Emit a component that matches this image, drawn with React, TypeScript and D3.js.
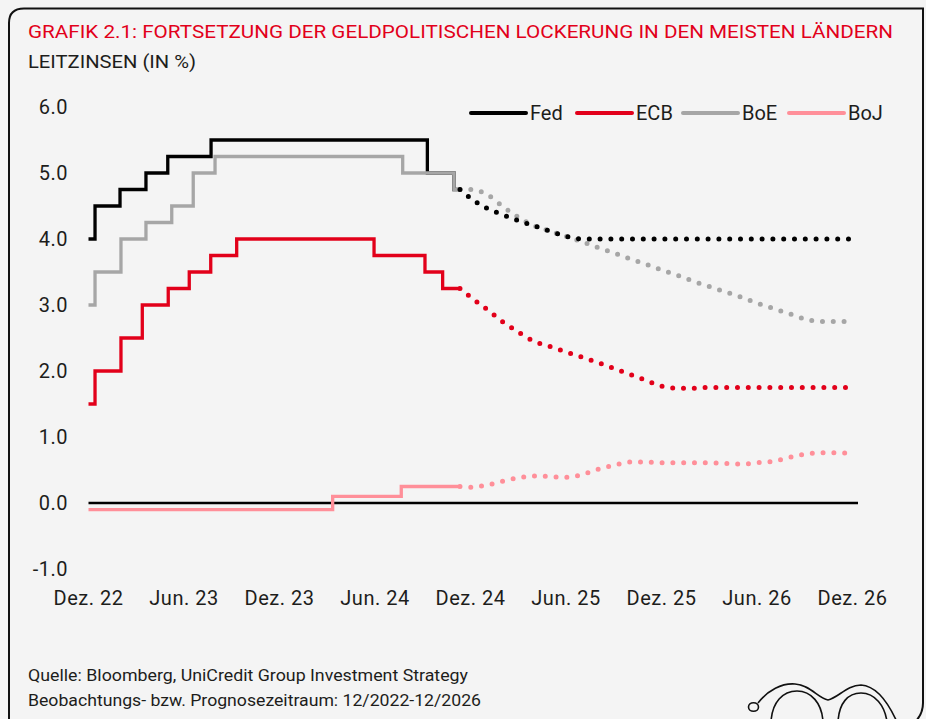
import React from "react";
import * as d3 from "d3";

const W = 926;
const H = 719;

// axis ticks
const yTicks = [-1, 0, 1, 2, 3, 4, 5, 6];
const xTickMonths = [0, 6, 12, 18, 24, 30, 36, 42, 48];
const xTickLabels = ["Dez. 22", "Jun. 23", "Dez. 23", "Jun. 24", "Dez. 24", "Jun. 25", "Dez. 25", "Jun. 26", "Dez. 26"];

// series names
const seriesNames = ["Fed", "ECB", "BoE", "BoJ"];

// historical policy rates: step change points (months since start of Dec 2022) and rate
const fedHistMonths = [0, 0.41, 1.98, 3.61, 4.98, 7.7, 21.29, 22.96];
const fedHistRates = [4.0, 4.5, 4.75, 5.0, 5.25, 5.5, 5.0, 4.75];
const ecbHistMonths = [0, 0.41, 2.04, 3.38, 5.01, 6.33, 7.68, 9.31, 17.94, 21.14, 22.25];
const ecbHistRates = [1.5, 2.0, 2.5, 3.0, 3.25, 3.5, 3.75, 4.0, 3.75, 3.5, 3.25];
const boeHistMonths = [0, 0.41, 2.04, 3.61, 5.23, 6.58, 7.95, 19.74, 22.96];
const boeHistRates = [3.0, 3.5, 4.0, 4.25, 4.5, 5.0, 5.25, 5.0, 4.75];
const bojHistMonths = [0, 15.34, 19.65];
const bojHistRates = [-0.1, 0.1, 0.25];
const histEnd = 23.34;

// forecasts (monthly, from end of history to Dec 2026)
const fcMonths = [histEnd, 24, 25, 26, 27, 28, 29, 30, 31, 32, 33, 34, 35, 36, 37, 38, 39, 40, 41, 42, 43, 44, 45, 46, 47, 48];
const fedForecast = [4.75, 4.62, 4.47, 4.37, 4.28, 4.2, 4.12, 4.04, 4.0, 4.0, 4.0, 4.0, 4.0, 4.0, 4.0, 4.0, 4.0, 4.0, 4.0, 4.0, 4.0, 4.0, 4.0, 4.0, 4.0, 4.0];
const ecbForecast = [3.25, 3.12, 2.94, 2.75, 2.59, 2.45, 2.37, 2.29, 2.21, 2.13, 2.04, 1.95, 1.86, 1.77, 1.74, 1.74, 1.75, 1.75, 1.75, 1.75, 1.75, 1.75, 1.75, 1.75, 1.75, 1.75];
const boeForecast = [4.75, 4.75, 4.68, 4.5, 4.33, 4.2, 4.12, 4.04, 3.96, 3.87, 3.79, 3.7, 3.62, 3.53, 3.45, 3.36, 3.28, 3.2, 3.12, 3.03, 2.95, 2.87, 2.79, 2.75, 2.75, 2.75];
const bojForecast = [0.25, 0.24, 0.27, 0.33, 0.38, 0.41, 0.4, 0.39, 0.43, 0.51, 0.57, 0.62, 0.62, 0.61, 0.61, 0.61, 0.61, 0.6, 0.59, 0.61, 0.63, 0.69, 0.74, 0.76, 0.76, 0.75];

const COLORS: Record<string, string> = {
  Fed: "#000000",
  ECB: "#e2001a",
  BoE: "#a6a6a6",
  BoJ: "#ff8f99",
};
const RED = "#e2001a";
const TEXT = "#1d1d1b";
const BG = "#f4f4f4";
const FONT = "Roboto, 'DejaVu Sans', sans-serif";

type Pt = [number, number];
const zip = (a: number[], b: number[]): Pt[] => a.map((m, i) => [m, b[i]]);
const fmt = (v: number) => d3.format(".1f")(v).replace("\u2212", "-");

export default function App() {
  const x = d3.scaleLinear().domain([0, 48]).range([88.5, 852.5]);
  const y = d3.scaleLinear().domain([-1, 6]).range([569, 107]);

  const stepLine = d3
    .line<Pt>()
    .x((d) => x(d[0]))
    .y((d) => y(d[1]))
    .curve(d3.curveStepAfter);
  const smoothLine = d3
    .line<Pt>()
    .x((d) => x(d[0]))
    .y((d) => y(d[1]))
    .curve(d3.curveMonotoneX);

  const hist: { name: string; pts: Pt[] }[] = [
    { name: "Fed", pts: zip(fedHistMonths, fedHistRates) },
    { name: "ECB", pts: zip(ecbHistMonths, ecbHistRates) },
    { name: "BoE", pts: zip(boeHistMonths, boeHistRates) },
    { name: "BoJ", pts: zip(bojHistMonths, bojHistRates) },
  ].map((s) => ({ name: s.name, pts: [...s.pts, [histEnd, s.pts[s.pts.length - 1][1]] as Pt] }));

  const fc: { name: string; pts: Pt[] }[] = [
    { name: "BoE", pts: zip(fcMonths, boeForecast) },
    { name: "ECB", pts: zip(fcMonths, ecbForecast) },
    { name: "BoJ", pts: zip(fcMonths, bojForecast) },
    { name: "Fed", pts: zip(fcMonths, fedForecast) },
  ];

  const legendX0 = 471;
  const legendStep = 106;
  const legendY = 113;

  return (
    <>
      <style>{`html,body{margin:0;padding:0;background:${BG};}`}</style>
      <svg width={W} height={H} style={{ display: "block", background: BG }} fontFamily={FONT}>
        {/* frame */}
        <path
          d="M9,722 L9,23 Q9,8.5 24,8.5 L923,8.5 L923,703 Q923,714 915,722"
          fill="none"
          stroke="#111"
          strokeWidth={2}
        />
        {/* title */}
        <text x={28} y={38} fill={RED} fontSize={19} textLength={865} lengthAdjust="spacingAndGlyphs">
          GRAFIK 2.1: FORTSETZUNG DER GELDPOLITISCHEN LOCKERUNG IN DEN MEISTEN LÄNDERN
        </text>
        <text x={28} y={68} fill={TEXT} fontSize={19} textLength={168} lengthAdjust="spacingAndGlyphs">
          LEITZINSEN (IN %)
        </text>

        {/* y axis labels */}
        {yTicks.map((t) => (
          <text key={t} x={68} y={y(t)} dy="0.36em" textAnchor="end" fill={TEXT} fontSize={20} letterSpacing={0.5}>
            {fmt(t)}
          </text>
        ))}
        {/* x axis labels */}
        {xTickMonths.map((m, i) => (
          <text key={m} x={x(m)} y={605} textAnchor="middle" fill={TEXT} fontSize={20} letterSpacing={0.5}>
            {xTickLabels[i]}
          </text>
        ))}

        {/* zero line */}
        <line x1={x(0)} x2={858} y1={y(0)} y2={y(0)} stroke="#000" strokeWidth={2.5} />

        {/* history */}
        {hist.map((s) => (
          <path
            key={"h" + s.name}
            d={stepLine(s.pts) || ""}
            fill="none"
            stroke={COLORS[s.name]}
            strokeWidth={3.3}
            strokeLinejoin="miter"
          />
        ))}
        {/* forecasts */}
        {fc.map((s) => (
          <path
            key={"f" + s.name}
            d={smoothLine(s.pts) || ""}
            fill="none"
            stroke={COLORS[s.name]}
            strokeWidth={5}
            strokeLinecap="round"
            strokeDasharray="0 10.8"
          />
        ))}

        {/* legend */}
        {seriesNames.map((n, i) => (
          <g key={n} transform={`translate(${legendX0 + i * legendStep},${legendY})`}>
            <line x1={0} x2={55} y1={0} y2={0} stroke={COLORS[n]} strokeWidth={4} strokeLinecap="round" />
            <text x={59} y={0} dy="0.36em" fill={TEXT} fontSize={20}>
              {n}
            </text>
          </g>
        ))}

        {/* footnotes */}
        <text x={28} y={681} fill={TEXT} fontSize={16} textLength={440} lengthAdjust="spacingAndGlyphs">
          Quelle: Bloomberg, UniCredit Group Investment Strategy
        </text>
        <text x={28} y={706} fill={TEXT} fontSize={16} textLength={453} lengthAdjust="spacingAndGlyphs">
          Beobachtungs- bzw. Prognosezeitraum: 12/2022-12/2026
        </text>

        {/* decorative glasses */}
        <g fill="none" stroke="#111" strokeWidth={1.6}>
          <ellipse cx={753.5} cy={707} rx={5} ry={4.3} />
          <path d="M758,703 C768,690 782,683 795,684 C810,685 818,698 828,700 C838,698 847,685 861,685 C877,686 888,702 897,722" />
          <path d="M771,722 C772,702 783,691 797,691 C811,691 822,703 823,722" />
          <path d="M838,722 C839,703 848,693 861,693 C875,693 885,706 887,722" />
        </g>
      </svg>
    </>
  );
}
